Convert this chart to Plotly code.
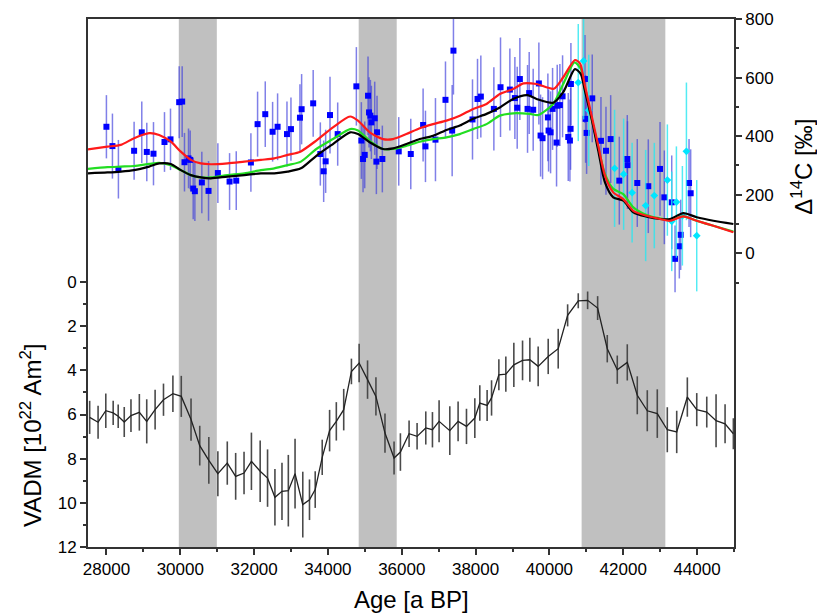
import plotly.graph_objects as go

# ---------------- data ----------------
# Shaded intervals (age, a BP)
BAND_START = [29960, 34833, 40872]
BAND_END = [30990, 35863, 43140]

# VADM record (10^22 Am^2)
vadm_age = [27545, 27773, 27982, 28182, 28318, 28482, 28664, 28891, 29091, 29318,
            29545, 29800, 30027, 30291, 30527, 30773, 31018, 31273, 31500, 31727,
            31927, 32164, 32364, 32564, 32755, 32927, 33109, 33318, 33500, 33655,
            33845, 34045, 34227, 34427, 34636, 34845, 35073, 35300, 35545, 35791,
            35963, 36198, 36415, 36650, 36831, 37011, 37301, 37526, 37753, 37979,
            38114, 38312, 38432, 38630, 38819, 39036, 39272, 39470, 39695, 39967,
            40238, 40493, 40781, 41035, 41306, 41567, 41838, 42109, 42380, 42651,
            42922, 43193, 43448, 43736, 43991, 44262, 44514, 44758, 44983]
vadm_val = [6.13, 6.35, 5.83, 5.93, 6.08, 6.34, 6.05, 5.90, 6.31, 5.78,
            5.33, 5.06, 5.18, 6.23, 7.41, 8.08, 8.68, 8.20, 8.80, 8.65,
            8.12, 8.57, 8.88, 9.75, 9.48, 9.45, 8.68, 10.08, 9.86, 9.40,
            7.94, 6.73, 6.31, 5.78, 4.05, 3.67, 4.42, 5.18, 6.84, 7.97,
            7.70, 6.87, 6.99, 6.61, 6.69, 6.31, 6.73, 6.31, 6.54, 6.16,
            5.48, 5.59, 5.25, 4.20, 4.17, 3.75, 3.55, 3.52, 3.82, 3.37,
            3.02, 1.51, 0.85, 0.83, 1.18, 3.02, 3.97, 3.64, 5.13, 5.83,
            5.96, 6.69, 6.79, 5.21, 5.78, 5.89, 6.28, 6.42, 6.87]
vadm_err = [0.75, 0.75, 0.78, 0.55, 0.53, 0.68, 0.74, 0.83, 1.0, 0.9,
            0.73, 0.83, 0.93, 0.96, 0.9, 1.06, 1.02, 0.98, 1.06, 0.96,
            1.3, 1.39, 1.3, 1.28, 1.3, 1.62, 1.58, 1.49, 0.92, 0.83,
            0.8, 0.94, 0.87, 0.94, 0.58, 0.87, 0.87, 0.87, 0.89, 0.75,
            0.85, 0.6, 0.6, 0.75, 0.8, 0.95, 1.1, 0.9, 0.8, 0.9,
            0.8, 0.7, 0.8, 0.7, 0.8, 1.0, 0.9, 1.0, 0.9, 0.8,
            0.9, 0.5, 0.34, 0.4, 0.54, 0.62, 0.64, 0.82, 0.86, 0.93,
            1.1, 1.02, 0.96, 0.89, 0.75, 0.7, 1.2, 0.88, 0.7]

# Delta 14C measurements (blue squares)
d14_age = [27999, 28162, 28324, 28749, 28957, 29093, 29274, 29572, 29735, 29970,
           30051, 30114, 30223, 30268, 30350, 30395, 30584, 30765, 31018, 31335,
           31516, 31913, 32094, 32302, 32501, 32636, 32890, 32998, 33242, 33287,
           33600, 33794, 33884, 33938, 34056, 34264, 34770, 34905, 34951, 34996,
           35086, 35113, 35150, 35177, 35267, 35312, 35330, 35474, 35918, 36244,
           36578, 36642, 36913, 37184, 37365, 37400, 37916, 38052, 38142, 38495,
           38675, 38928, 39064, 39127, 39199, 39407, 39452, 39560, 39714, 39760,
           39814, 39958, 39977, 40031, 40085, 40193, 40211, 40283, 40356, 40510,
           40555, 40573, 40582, 40962, 40980, 41007, 41160, 41396, 41532, 41659,
           41893, 42109, 42115, 42380, 42678, 42996, 43113, 43313, 43403, 43519,
           43556, 43782, 43826]
d14_val = [432, 366, 287, 350, 413, 346, 340, 380, 389, 516,
           518, 311, 324, 319, 221, 212, 242, 213, 274, 245,
           248, 310, 441, 475, 415, 432, 407, 424, 463, 492,
           512, 339, 280, 314, 472, 407, 570, 385, 322, 336,
           538, 481, 470, 447, 461, 313, 413, 322, 348, 339,
           438, 365, 388, 524, 419, 692, 457, 527, 535, 493,
           567, 559, 530, 497, 595, 493, 547, 490, 580, 402,
           393, 464, 419, 413, 493, 378, 504, 506, 536, 397,
           385, 425, 578, 595, 459, 411, 529, 384, 350, 390,
           248, 322, 301, 240, 229, 288, 191, 174, -19, 24,
           63, 240, 205]
d14_err = [108, 111, 100, 99, 105, 100, 108, 102, 105, 123,
           121, 100, 102, 100, 105, 102, 105, 102, 102, 97,
           100, 100, 111, 112, 102, 114, 111, 108, 114, 120,
           114, 108, 105, 108, 131, 108, 134, 131, 114, 114,
           134, 120, 122, 125, 125, 111, 125, 114, 117, 120,
           125, 122, 142, 131, 156, 150, 137, 137, 140, 142,
           170, 140, 140, 140, 140, 150, 140, 140, 140, 140,
           140, 150, 140, 140, 140, 150, 140, 140, 140, 150,
           140, 140, 140, 150, 150, 140, 150, 150, 150, 150,
           150, 150, 150, 150, 160, 160, 160, 160, 114, 110,
           120, 150, 150]

# Delta 14C measurements (cyan)
cy_age = [40781, 40925, 41065, 41765, 42010, 42240, 42607, 42841, 43195, 43313,
          43440, 43602, 43711, 43990]
cy_val = [583, 657, 488, 290, 270, 207, 163, 197, 250, 109,
          175, 128, 348, 60]
cy_err = [200, 200, 190, 200, 190, 170, 190, 180, 190, 170,
          190, 170, 235, 190]

# Model curves (Delta 14C)
red_age = [27500, 28026, 28387, 28750, 29157, 29428, 29743, 30014, 30285, 30556,
           30827, 31280, 31733, 32184, 32547, 32907, 33250, 33686, 34136, 34600,
           34814, 35131, 35492, 35763, 36126, 36487, 36848, 37211, 37572, 37933,
           38296, 38657, 39017, 39300, 39651, 40120, 40374, 40690, 40830, 40962,
           41143, 41323, 41504, 41729, 42000, 42272, 42634, 42996, 43267, 43628,
           43990, 44441, 44983]
red_val = [355, 364, 370, 393, 410, 404, 381, 347, 319, 307,
           304, 307, 313, 319, 324, 336, 347, 385, 430, 467,
           453, 413, 390, 390, 407, 427, 441, 453, 470, 493,
           510, 544, 561, 580, 578, 562, 601, 660, 648, 572,
           470, 367, 265, 208, 185, 145, 128, 117, 111, 126,
           111, 94, 72]
black_age = [27500, 28026, 28387, 28750, 29157, 29428, 29743, 30014, 30285, 30556,
             30827, 31280, 31733, 32184, 32547, 32907, 33268, 33686, 34136, 34600,
             34814, 35131, 35492, 35763, 36126, 36487, 36848, 37211, 37572, 37933,
             38296, 38657, 39017, 39400, 39651, 40102, 40374, 40690, 40850, 40962,
             41143, 41323, 41504, 41729, 42000, 42272, 42634, 42996, 43267, 43628,
             43990, 44441, 44983]
black_val = [273, 276, 279, 284, 296, 307, 305, 284, 267, 259,
             256, 262, 267, 273, 273, 279, 290, 333, 373, 413,
             407, 379, 356, 358, 373, 390, 401, 421, 436, 459,
             476, 498, 527, 540, 527, 514, 550, 629, 612, 555,
             459, 350, 242, 191, 180, 140, 125, 117, 117, 137,
             123, 111, 100]
green_age = [27500, 28026, 28387, 28750, 29157, 29428, 29743, 30014, 30285, 30556,
             30827, 31280, 31733, 32184, 32547, 32907, 33268, 33686, 34136, 34600,
             34814, 35131, 35492, 35763, 36126, 36487, 36848, 37211, 37572, 37933,
             38296, 38657, 39017, 39470, 39700, 40102, 40374, 40680, 40850, 40962,
             41143, 41323, 41504, 41729, 42000, 42272, 42634, 42996, 43267, 43628,
             43990, 44441, 44983]
green_val = [288, 294, 296, 298, 305, 309, 301, 284, 267, 259,
             259, 267, 273, 284, 290, 301, 313, 356, 390, 424,
             419, 384, 356, 356, 367, 381, 390, 396, 407, 424,
             441, 470, 478, 476, 472, 510, 578, 652, 629, 561,
             459, 362, 271, 220, 202, 157, 131, 119, 114, 126,
             111, 94, 74]

X_TICKS = [28000, 30000, 32000, 34000, 36000, 38000, 40000, 42000, 44000]
X_LABELS = [str(v) for v in X_TICKS]
VADM_TICKS = [0, 2, 4, 6, 8, 10, 12]
D14_TICKS = [0, 200, 400, 600, 800]

# ---------------- figure ----------------
FONT = "Arial, Liberation Sans, sans-serif"
AXC = "#333333"
fig = go.Figure()

# VADM
fig.add_trace(go.Scatter(
    x=vadm_age, y=vadm_val, mode="lines", yaxis="y",
    line=dict(color="#222222", width=1.3),
    error_y=dict(type="data", array=vadm_err, color="#4a4a4a", thickness=1.6, width=0),
    showlegend=False))

# Delta14C blue
fig.add_trace(go.Scatter(
    x=d14_age, y=d14_val, mode="markers", yaxis="y2",
    marker=dict(symbol="square", size=6, color="#0000ff"),
    error_y=dict(type="data", array=d14_err, color="rgba(60,60,220,0.65)", thickness=1.5, width=0),
    showlegend=False))

# Delta14C cyan
fig.add_trace(go.Scatter(
    x=cy_age, y=cy_val, mode="markers", yaxis="y2",
    marker=dict(symbol="diamond", size=6, color="#00e5ff"),
    error_y=dict(type="data", array=cy_err, color="rgba(40,230,240,0.8)", thickness=1.5, width=0),
    showlegend=False))

for xs, ys, col in [(green_age, green_val, "#22dd22"),
                    (black_age, black_val, "#000000"),
                    (red_age, red_val, "#ff1a1a")]:
    fig.add_trace(go.Scatter(
        x=xs, y=ys, mode="lines", yaxis="y2",
        line=dict(color=col, width=2.2, shape="spline", smoothing=0.7),
        showlegend=False))

shapes = []
for s, e in zip(BAND_START, BAND_END):
    shapes.append(dict(type="rect", xref="x", yref="paper", x0=s, x1=e, y0=0, y1=1,
                       fillcolor="#c0c0c0", line=dict(width=0), layer="below"))

fig.update_layout(
    width=817, height=615,
    margin=dict(l=88, r=83, t=19, b=68, autoexpand=False),
    paper_bgcolor="white", plot_bgcolor="white",
    font=dict(family=FONT, color="#000000", size=17),
    shapes=shapes,
    showlegend=False,
    xaxis=dict(range=[27500, 45000], tickvals=X_TICKS, ticktext=X_LABELS, ticks="outside", ticklen=6,
               tickwidth=1.5, tickcolor=AXC, showline=True, linecolor=AXC, linewidth=1.8,
               mirror=True, showgrid=False, zeroline=False, automargin=False,
               tickfont=dict(size=17),
               minor=dict(tickvals=[29000, 31000, 33000, 35000, 37000, 39000, 41000, 43000, 45000],
                          ticks="outside", ticklen=3, tickcolor=AXC, tickwidth=1.5)),
    yaxis=dict(range=[12, -11.91], tickvals=VADM_TICKS, ticks="outside", ticklen=6,
               tickwidth=1.5, tickcolor=AXC, showline=True, linecolor=AXC, linewidth=1.8,
               showgrid=False, zeroline=False, tickfont=dict(size=17), automargin=False,
               minor=dict(tickvals=[1, 3, 5, 7, 9, 11], ticks="outside", ticklen=3,
                          tickcolor=AXC, tickwidth=1.5)),
    yaxis2=dict(range=[-1003, 800], overlaying="y", side="right", tickvals=D14_TICKS,
                ticks="outside", ticklen=6, tickwidth=1.5, tickcolor=AXC, showline=True,
                linecolor=AXC, linewidth=1.8, showgrid=False, zeroline=False,
                tickfont=dict(size=17), automargin=False,
                minor=dict(tickvals=[-100, 100, 300, 500, 700], ticks="outside", ticklen=3,
                           tickcolor=AXC, tickwidth=1.5)),
    annotations=[
        dict(text="Age [a BP]", xref="paper", yref="paper", x=0.5, y=-0.1,
             xanchor="center", yanchor="middle", showarrow=False, font=dict(size=24)),
        dict(text="VADM [10<sup>22</sup> Am<sup>2</sup>]", xref="paper", yref="paper",
             x=-0.0882, y=0.212, xanchor="center", yanchor="middle", textangle=-90,
             showarrow=False, font=dict(size=24)),
        dict(text="Δ<sup>14</sup>C [‰]", xref="paper", yref="paper",
             x=1.105, y=0.72, xanchor="center", yanchor="middle", textangle=-90,
             showarrow=False, font=dict(size=24)),
    ],
)

fig.write_html("out.html", config={"displayModeBar": False},
               post_script="document.body.style.margin='0';document.body.style.padding='0';"
                           "document.body.style.overflow='hidden';")
